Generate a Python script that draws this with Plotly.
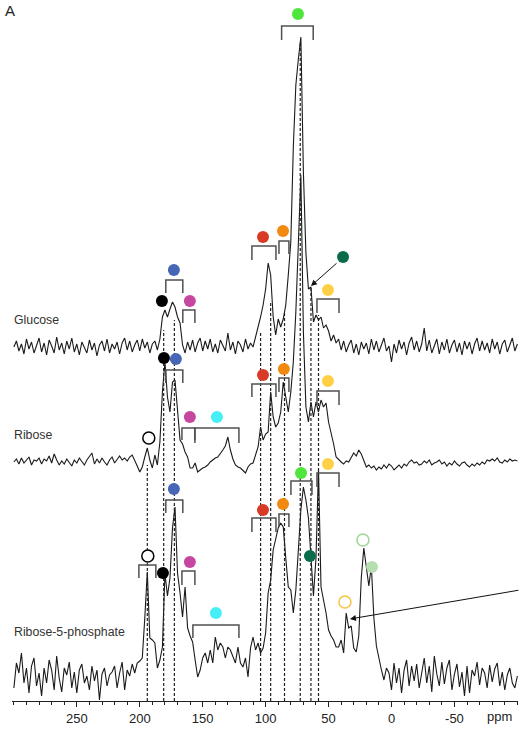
import numpy as np
import plotly.graph_objects as go

# Chemical shift grid (ppm), 2 ppm steps from 300 down to -100
ppm = np.arange(300, -101, -2)

# 13C spectra, intensity above each trace's own baseline
glucose = [
    0, 6, -4, 3, -7, 8, -2, 5, -6, 2,
    9, -5, 4, -8, 7, 1, -6, 10, -3, 4,
    -7, 6, -2, 9, -5, 3, -8, 5, 0, -6,
    7, -3, 4, -9, 2, 6, -4, 8, -6, 3,
    -2, 5, -7, 4, 9, -3, 6, -5, 2, 7,
    -4, 8, -1, 5, -6, 3, 6, -3, 8, 30,
    37, 30, 38, 45, 40, 30, 24, 2, -6, 5,
    -3, 7, -5, 4, 9, -4, 6, -2, 8, -5,
    3, -6, 7, 1, -4, 14, -3, 5, -7, 6,
    2, -5, 8, -2, 4, 0, 10, 17, 30, 42,
    58, 84, 72, 30, 12, 28, 20, 28, 42, 72,
    105, 200, 262, 288, 310, 175, 94, 58, 60, 25,
    32, 27, 30, 19, 22, 16, 6, 12, 4, 8,
    -3, 6, -5, 2, 7, -6, 3, -8, 5, -2,
    4, -7, 8, -3, 6, -5, 2, 9, -4, 1,
    -15, 3, -6, 7, -2, 5, -8, 4, 10, -3,
    6, -5, 3, 19, -4, 7, -6, 2, 8, -7,
    5, -3, 8, -6, 2, 7, -5, 4, -8, 6,
    -2, 5, -7, 3, 9, -4, 6, -3, 4, -6,
    8, -2, 5, -7, 3, 7, -5, 2, 9, -4,
    3,
]

ribose = [
    0, 3, -2, 4, -1, 2, 5, -3, 2, 1,
    4, -2, 3, 1, 6, -1, 8, 2, -3, 1,
    -2, 3, 0, -4, 2, -1, 4, 1, -3, 2,
    5, 9, -2, 3, -1, 4, 0, -3, 2, 5,
    -1, 3, 6, 2, 4, 1, 5, 7, 2, -4,
    -10, -5, 5, 14, 2, -6, 7, -3, 20, 70,
    100, 65, 50, 80, 82, 55, 22, 18, 10, 5,
    -6, -6, -1, -10, -8, -6, -5, -3, 0, 2,
    4, 5, 8, 12, 16, 25, 12, 3, -3, -5,
    -6, -9, -11, -5, -2, -1, 6, 15, 35, 22,
    28, 30, 70, 45, 35, 39, 50, 80, 65, 50,
    70, 100, 150, 220, 287, 130, 55, 40, 60, 45,
    60, 50, 62, 55, 59, 40, 30, 18, 5, 2,
    0, -2, 1, 0, 4, 9, 6, 12, 8, 2,
    -5, -3, -6, -4, -8, -5, -7, -3, -6, -2,
    -4, -8, -5, -3, -6, -2, -4, 0, 2, -1,
    0, -3, -2, 1, -1, 2, -3, -1, 0, 2,
    -2, 0, -4, -1, -3, 1, -2, -4, -1, 0,
    -3, -5, -2, -4, -1, -3, 0, -2, 2, 1,
    3, 1, 4, 0, -1, 2, 0, 3, 1, 2,
    1,
]

ribose_5_phosphate = [
    -10, 15, 5, 25, -5, 10, -15, 12, 20, -8,
    5, -18, 10, -5, 18, 8, -12, 22, 0, -14,
    10, 3, 16, -10, 6, -15, 8, 14, -5, 2,
    -12, 12, -3, 8, -22, 4, 10, -8, 3, 6,
    12, -10, 5, 16, -12, 8, 2, 14, 5, 15,
    17, 20, 60, 106, 40, 38, 35, 10, 18, 31,
    105, 82, 100, 150, 171, 105, 85, 61, 91, 50,
    42, 36, 18, 1, 8, 20, 25, 15, 28, 15,
    41, 28, 35, 31, 20, 31, 28, 22, 15, 31,
    15, 11, 20, 1, 30, 41, 28, 35, 25, 30,
    45, 85, 98, 128, 140, 150, 155, 151, 120, 91,
    88, 65, 88, 125, 168, 191, 178, 160, 115, 82,
    120, 208, 91, 78, 65, 48, 42, 38, 31, 31,
    38, 25, 65, 50, 52, 30, 26, 42, 100, 130,
    108, 92, 112, 60, 32, 18, 8, -2, 10, 5,
    -12, 15, -5, 10, -15, 8, 18, -8, 12, -3,
    14, -10, 6, 20, -5, 12, -14, 22, 4, -8,
    16, -6, 10, 18, -12, 4, 14, -9, 6, -18,
    12, -15, 8, 2, 16, -7, 10, 5, -10, 13,
    -4, 9, 15, -8, 6, -12, 3, 10, -5, -10,
    2,
]

spectrum_names = ["Glucose", "Ribose", "Ribose-5-phosphate"]
spectra = [glucose, ribose, ribose_5_phosphate]

tick_values = [250, 200, 150, 100, 50, 0, -50]
tick_labels = ["250", "200", "150", "100", "50", "0", "-50"]

# Reference shifts marked by dashed guides (ppm, top of guide in plot units)
guide_ppm = [194, 181, 172.5, 104, 96, 85, 72.5, 64, 58]
guide_top = [236, 371, 381, 369, 398, 388, 658, 413, 386]

# Stack offsets of the three traces (plot units)
offset = {"Glucose": 354, "Ribose": 239, "Ribose-5-phosphate": 23}

C = {
    "green": "#4fe63c", "red": "#d93a26", "orange": "#f28a12", "dkgreen": "#0a6b4b",
    "yellow": "#ffd046", "blue": "#4767b6", "magenta": "#c6479f", "cyan": "#46eef6",
    "black": "#000000", "ltgreen": "#b7deb1", "ltgreen_o": "#9fd596", "yellow_o": "#f6c443",
}

# Carbon-position markers: (trace, ppm, height above baseline, colour, filled)
markers = [
    ("Glucose", 74.3, 333, "green", True),
    ("Glucose", 102.1, 110, "red", True),
    ("Glucose", 86.2, 116, "orange", True),
    ("Glucose", 38.5, 90, "dkgreen", True),
    ("Glucose", 50.5, 57, "yellow", True),
    ("Glucose", 172.9, 77, "blue", True),
    ("Glucose", 182.4, 46, "black", True),
    ("Glucose", 160.2, 46, "magenta", True),
    ("Ribose", 180.8, 104, "black", True),
    ("Ribose", 171.3, 103, "blue", True),
    ("Ribose", 102.1, 87, "red", True),
    ("Ribose", 85.5, 93, "orange", True),
    ("Ribose", 50.5, 81, "yellow", True),
    ("Ribose", 160.2, 45, "magenta", True),
    ("Ribose", 138.7, 45, "cyan", True),
    ("Ribose", 192.8, 24, "black", False),
    ("Ribose-5-phosphate", 71.9, 205, "green", True),
    ("Ribose-5-phosphate", 50.5, 214, "yellow", True),
    ("Ribose-5-phosphate", 102.1, 168, "red", True),
    ("Ribose-5-phosphate", 86.2, 174, "orange", True),
    ("Ribose-5-phosphate", 64.8, 122, "dkgreen", True),
    ("Ribose-5-phosphate", 22.7, 138, "ltgreen_o", False),
    ("Ribose-5-phosphate", 15.5, 111, "ltgreen", True),
    ("Ribose-5-phosphate", 37.0, 76, "yellow_o", False),
    ("Ribose-5-phosphate", 172.9, 189, "blue", True),
    ("Ribose-5-phosphate", 193.6, 122, "black", False),
    ("Ribose-5-phosphate", 181.6, 105, "black", True),
    ("Ribose-5-phosphate", 160.2, 116, "magenta", True),
    ("Ribose-5-phosphate", 139.5, 65, "cyan", True),
]

# Range brackets: (trace, ppm left, ppm right, bar height, leg end height)
brackets = [
    ("Glucose", 87.3, 62.2, 321, 307),
    ("Glucose", 110.9, 91.8, 101, 87),
    ("Glucose", 89.4, 81.5, 106, 93),
    ("Glucose", 59.2, 41.7, 48, 34),
    ("Glucose", 179.3, 165.8, 67, 54),
    ("Glucose", 165.8, 156.2, 37, 24),
    ("Ribose", 179.3, 165.8, 92, 79),
    ("Ribose", 110.9, 91.8, 78, 65),
    ("Ribose", 89.4, 81.5, 84, 70),
    ("Ribose", 59.2, 41.7, 71, 57),
    ("Ribose", 166.5, 156.2, 34, 22),
    ("Ribose", 156.2, 121.2, 34, 19),
    ("Ribose-5-phosphate", 79.9, 63.2, 197, 183),
    ("Ribose-5-phosphate", 59.2, 41.7, 205, 191),
    ("Ribose-5-phosphate", 110.9, 91.8, 160, 146),
    ("Ribose-5-phosphate", 89.4, 81.5, 164, 151),
    ("Ribose-5-phosphate", 179.3, 165.8, 178, 165),
    ("Ribose-5-phosphate", 200.7, 187.2, 113, 100),
    ("Ribose-5-phosphate", 166.5, 156.2, 107, 93),
    ("Ribose-5-phosphate", 157.8, 121.2, 53, 40),
]

# Pointer arrows: (trace, tail ppm, tail height, head ppm, head height)
arrows = [
    ("Glucose", 42.5, 85, 64.0, 61),
    ("Ribose-5-phosphate", -102.0, 88, 33.0, 59),
]

fig = go.Figure()

for name, vals in zip(spectrum_names, spectra):
    assert len(vals) == len(ppm)
    fig.add_trace(go.Scatter(
        x=ppm, y=np.array(vals) + offset[name], mode="lines",
        line=dict(color="#1a1a1a", width=1.1), hoverinfo="skip", showlegend=False,
    ))

for p, top in zip(guide_ppm, guide_top):
    fig.add_trace(go.Scatter(
        x=[p, p], y=[0, top], mode="lines",
        line=dict(color="#202020", width=1.2, dash="3px,2px"),
        hoverinfo="skip", showlegend=False,
    ))

for name, left, right, bar, leg in brackets:
    b = offset[name]
    fig.add_trace(go.Scatter(
        x=[left, left, right, right], y=[leg + b, bar + b, bar + b, leg + b],
        mode="lines", line=dict(color="#505050", width=1.5),
        hoverinfo="skip", showlegend=False,
    ))

for name, p, h, col, filled in markers:
    c = C[col]
    fig.add_trace(go.Scatter(
        x=[p], y=[h + offset[name]], mode="markers", cliponaxis=False,
        marker=dict(size=12, color=c if filled else "white",
                    line=dict(color=c, width=0 if filled else 1.5)),
        hoverinfo="skip", showlegend=False,
    ))

for name, tp, th, hp, hh in arrows:
    b = offset[name]
    fig.add_annotation(
        x=hp, y=hh + b, ax=tp, ay=th + b, xref="x", yref="y", axref="x", ayref="y",
        text="", showarrow=True, arrowhead=2, arrowsize=1.2, arrowwidth=1,
        arrowcolor="#111111",
    )

label_height = {"Glucose": 27, "Ribose": 27, "Ribose-5-phosphate": 46}
for name in spectrum_names:
    fig.add_annotation(
        x=0, y=offset[name] + label_height[name], xref="paper", yref="y",
        text=name, showarrow=False, xanchor="left", yanchor="middle",
        font=dict(size=12.3, color="#333333"),
    )

# panel letter and axis unit, placed in paper coordinates
fig.add_annotation(x=-0.018, y=1.0, xref="paper", yref="paper", text="A", showarrow=False,
                   xanchor="left", yanchor="top", font=dict(size=15, color="#222222"))
fig.add_annotation(x=0.963, y=-0.0214, xref="paper", yref="paper", text="ppm", showarrow=False,
                   xanchor="center", yanchor="middle", font=dict(size=13, color="#222222"))

fig.update_layout(
    width=520, height=729, margin=dict(l=12, r=2, t=0, b=28),
    paper_bgcolor="white", plot_bgcolor="white",
    font=dict(family="Liberation Sans, Arial, sans-serif", color="#222222"),
    xaxis=dict(
        range=[301.5, -100.5], showgrid=False, zeroline=False,
        showline=True, linecolor="#222222", linewidth=1,
        ticks="outside", ticklen=5, tickwidth=1, tickcolor="#222222",
        tickvals=tick_values, ticktext=tick_labels, tickfont=dict(size=13),
        minor=dict(dtick=10, ticks="outside", ticklen=3, tickcolor="#222222", showgrid=False),
    ),
    yaxis=dict(range=[0, 701], visible=False),
)

fig.write_html("out.html")
